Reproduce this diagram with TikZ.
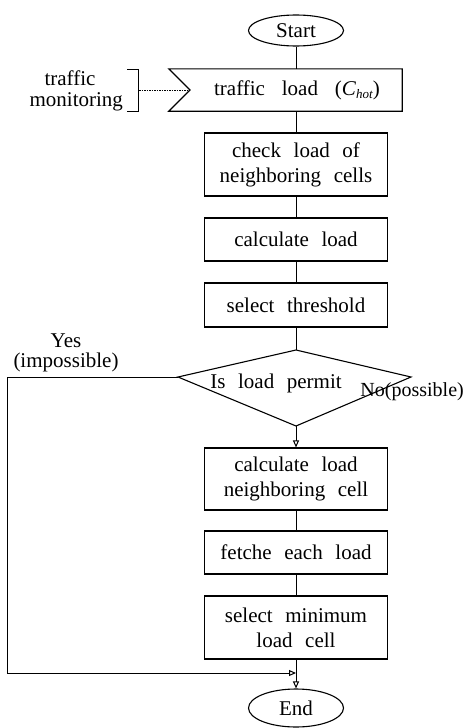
\documentclass[tikz,border=0pt]{standalone}
\usepackage{fontspec}
\setmainfont{Liberation Serif}
\usetikzlibrary{shapes.geometric,arrows.meta}
\newcommand{\wsp}{\spaceskip=0.6em\relax}
\begin{document}
\begin{tikzpicture}[x=1pt,y=-1pt,
  every node/.style={font=\fontsize{21}{25}\selectfont\wsp, inner sep=0pt},
  box/.style={draw, line width=1.1pt, minimum width=183pt, align=center},
  term/.style={draw, ellipse, line width=1.1pt, minimum width=95pt},
  flow/.style={line width=1pt},
  arr/.style={line width=1pt, -{Triangle[open,length=7pt,width=6pt]}},
  lbl/.style={align=center}
]
\useasboundingbox (0,0) rectangle (464,728);

% terminals
\node[term, minimum height=31pt] (start) at (296,30.5) {Start};
\node[term, minimum height=38pt] (end) at (296,708) {End};

% traffic load box with notch
\node[minimum width=233pt, minimum height=42pt] (tlbox) at (285.5,90) {};
\coordinate (notch) at (190,90);
\draw[line width=1.1pt] (tlbox.north west) -- (tlbox.north east) -- (tlbox.south east) -- (tlbox.south west) -- (notch) -- cycle;
\node (tltext) at (297,90) {traffic\hspace{0.8em}load\hspace{0.8em}(\textit{C}\raisebox{-0.35ex}{\fontsize{13}{13}\selectfont\textit{hot}})};

% traffic monitoring + bracket
\node[lbl, font=\fontsize{21}{21}\selectfont] (mon) at (70,91) {traffic\\\hspace*{0.6em}monitoring};
\coordinate (bt) at (127,69);
\coordinate (btv) at (138,69);
\coordinate (bbv) at (138,111);
\coordinate (bb) at (127,111);
\coordinate (bm) at (139,90);
\draw[line width=1pt] (bt) -- (btv) -- (bbv) -- (bb);
\draw[line width=0.7pt, dash pattern=on 1.5pt off 1pt] (bm) -- (notch);

% process boxes
\node[box, minimum height=63pt] (chk) at (296,164.5) {check load of\\neighboring cells};
\node[box, minimum height=43pt] (cl) at (296,239.5) {calculate load};
\node[box, minimum height=44pt] (thr) at (296,305) {select threshold};

% decision
\coordinate (dT) at (296,350);
\coordinate (dL) at (178,377);
\coordinate (dR) at (411,377);
\coordinate (dB) at (296,426);
\draw[line width=1.1pt] (dT) -- (dR) -- (dB) -- (dL) -- cycle;
\node (dtext) at (276,383) {Is load permit};

\node[box, minimum height=62pt] (cn) at (296,479) {calculate load\\neighboring cell};
\node[box, minimum height=43pt] (fe) at (296,552.5) {fetche each load};
\node[box, minimum height=63pt] (sm) at (296,627.5) {select minimum\\load cell};

% labels
\node[lbl, font=\fontsize{21}{20}\selectfont] (yes) at (66,353) {Yes\\(impossible)};
\node[anchor=east, font=\fontsize{20}{20}\selectfont] (no) at (464,392) {No(possible)};

% connectors
\draw[flow] (start) -- (tlbox.north -| start);
\draw[flow] (tlbox.south -| chk) -- (chk);
\draw[flow] (chk) -- (cl);
\draw[flow] (cl) -- (thr);
\draw[flow] (thr) -- (dT);
\draw[arr] (dB) -- (cn);
\draw[flow] (cn) -- (fe);
\draw[flow] (fe) -- (sm);
\draw[arr] (sm) -- (end);
\coordinate (c1) at (7,377);
\coordinate (c2) at (7,673);
\coordinate (j) at (296,673);
\draw[arr] (dL) -- (c1) -- (c2) -- (j);
\end{tikzpicture}
\end{document}
